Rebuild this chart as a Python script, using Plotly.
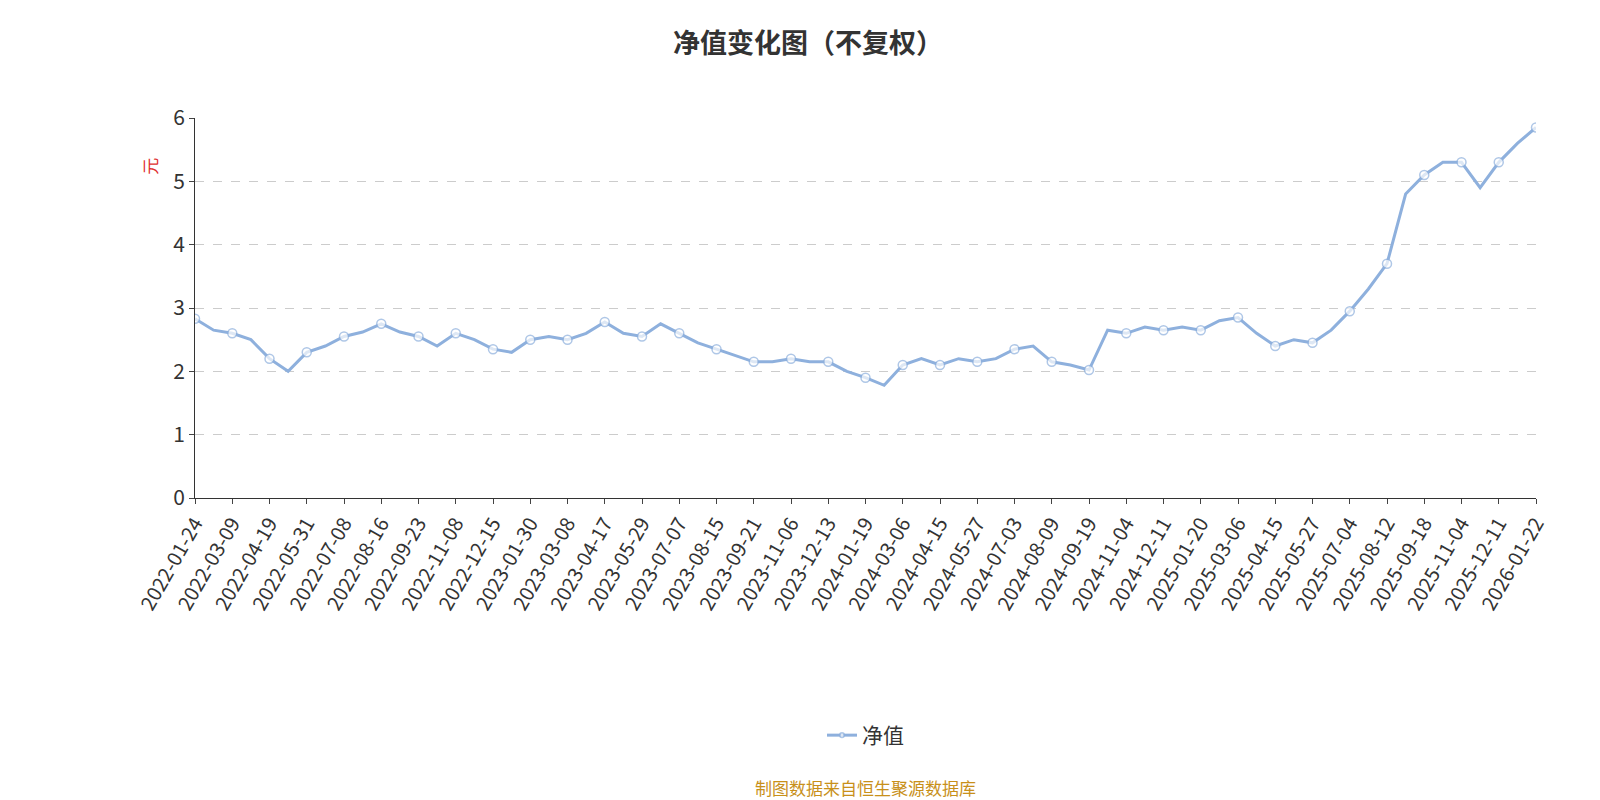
import plotly.graph_objects as go

dates = ["2022-01-24","2022-02-15","2022-03-09","2022-03-30","2022-04-19","2022-04-28","2022-05-31","2022-06-20","2022-07-08","2022-07-27",
"2022-08-16","2022-09-02","2022-09-23","2022-10-17","2022-11-08","2022-11-25","2022-12-15","2023-01-06","2023-01-30","2023-02-16",
"2023-03-08","2023-03-27","2023-04-17","2023-05-08","2023-05-29","2023-06-15","2023-07-07","2023-07-26","2023-08-15","2023-09-01",
"2023-09-21","2023-10-16","2023-11-06","2023-11-23","2023-12-13","2024-01-02","2024-01-19","2024-02-06","2024-03-06","2024-03-25",
"2024-04-15","2024-05-06","2024-05-27","2024-06-14","2024-07-03","2024-07-22","2024-08-09","2024-08-28","2024-09-19","2024-10-14",
"2024-11-04","2024-11-21","2024-12-11","2024-12-30","2025-01-20","2025-02-13","2025-03-06","2025-03-25","2025-04-15","2025-05-06",
"2025-05-27","2025-06-16","2025-07-04","2025-07-23","2025-08-12","2025-08-29","2025-09-18","2025-10-14","2025-11-04","2025-11-21",
"2025-12-11","2025-12-30","2026-01-22"]
nav = [2.83,2.65,2.6,2.5,2.2,2.0,2.3,2.4,2.55,2.62,
2.75,2.62,2.55,2.4,2.6,2.5,2.35,2.3,2.5,2.55,
2.5,2.6,2.78,2.6,2.55,2.75,2.6,2.45,2.35,2.25,
2.15,2.15,2.2,2.15,2.15,2.0,1.9,1.78,2.1,2.2,
2.1,2.2,2.15,2.2,2.35,2.4,2.15,2.1,2.02,2.65,
2.6,2.7,2.65,2.7,2.65,2.8,2.85,2.6,2.4,2.5,
2.45,2.65,2.95,3.3,3.7,4.8,5.1,5.3,5.3,4.9,
5.3,5.6,5.85]
tick_dates = dates[::2]

sizes = [9 if d in tick_dates else 0 for d in dates]

fig = go.Figure(go.Scatter(
    x=dates, y=nav, mode="lines+markers", name="净值",
    line=dict(color="#8eb0dd", width=3),
    marker=dict(size=sizes, color="white", line=dict(color="#8eb0dd", width=1.5)),
))
fig.update_layout(
    width=1600, height=800, plot_bgcolor="white", paper_bgcolor="white",
    margin=dict(l=187, r=72, t=110, b=310),
    font=dict(family="Noto Sans CJK SC", color="#333"),
    title=dict(text="<b>净值变化图（不复权）</b>", x=0.5, y=0.968, xanchor="center", font=dict(size=27, color="#333")),
    showlegend=True,
    legend=dict(orientation="h", x=0.5, xanchor="center", y=-0.625, yanchor="middle", font=dict(size=21)),
    xaxis=dict(type="category", tickmode="array", tickvals=tick_dates, ticktext=tick_dates,
               tickangle=-60, tickfont=dict(size=20), showgrid=False, showline=True,
               linecolor="#333", ticks="outside", ticklen=5, range=[0, len(dates)-1]),
    yaxis=dict(range=[0, 6], dtick=1, tickfont=dict(size=21), showgrid=True, gridcolor="#ccc",
               griddash="dash", showline=True, linecolor="#333", ticks="outside", ticklen=5,
               zeroline=False),
    annotations=[
        dict(text="元", x=-0.045, y=0.9, xref="paper", yref="paper", showarrow=False,
             textangle=-90, font=dict(color="#e03030", size=17)),
        dict(text="制图数据来自恒生聚源数据库", x=0.5, y=-0.8, xref="paper", yref="paper",
             showarrow=False, font=dict(color="#c8901a", size=17)),
    ],
)
fig.write_html("out.html")
